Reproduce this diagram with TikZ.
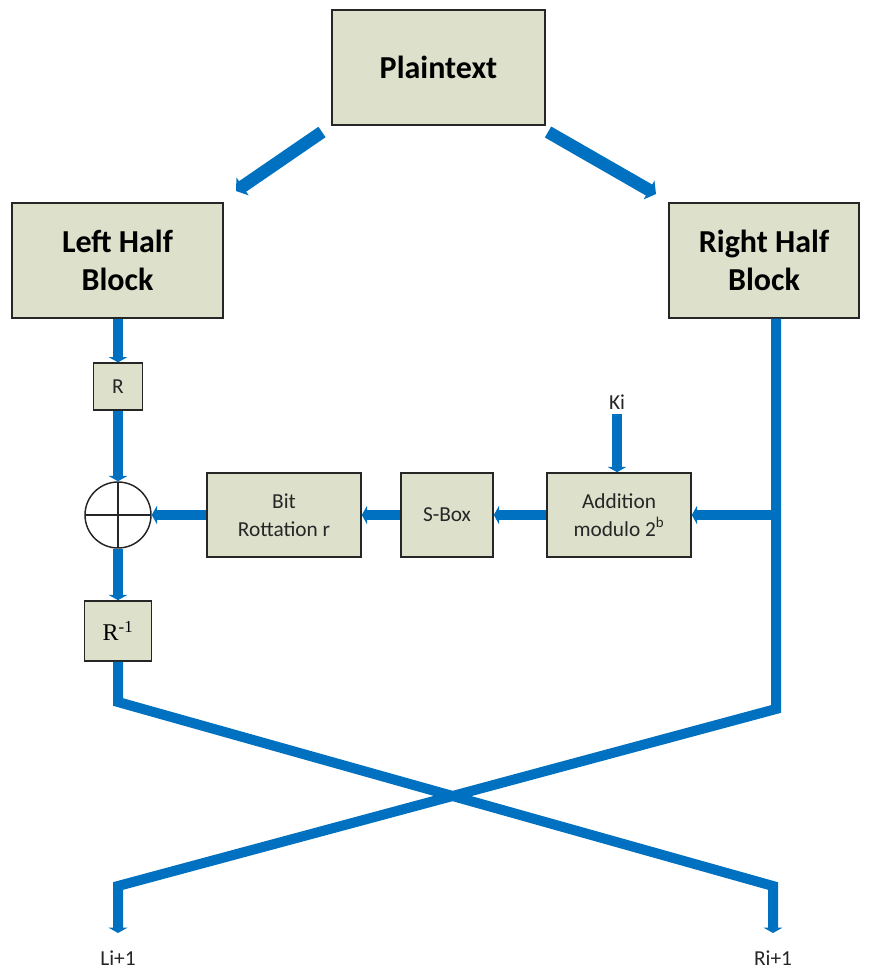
\documentclass[tikz,border=0pt]{standalone}
\usepackage{fontspec}
\setmainfont{Carlito}
\newfontfamily\serifface{Liberation Serif}
\usetikzlibrary{arrows.meta}
\definecolor{boxfill}{HTML}{DDE1CC}
\definecolor{flow}{HTML}{0070C0}
\definecolor{ink}{HTML}{262626}
\begin{document}
\begin{tikzpicture}[x=0.75pt,y=-0.75pt,
  blockbox/.style={draw=ink,line width=1.2pt,fill=boxfill,align=center,inner sep=0pt},
  bigtext/.style={font=\fontsize{24}{28}\selectfont\bfseries},
  smalltext/.style={font=\fontsize{16}{21}\selectfont,text=ink},
  flowline/.style={draw=flow,line width=7.5pt,line join=miter},
  flowarrow/.style={flowline,-{Triangle[width=14pt,length=4pt]}},
  bigarrow/.style={draw=flow,line width=9.5pt,-{Triangle[width=16pt,length=6pt]}},
  xorcircle/.style={circle,draw=ink,line width=1.1pt,fill=white,minimum size=49.5pt,inner sep=0pt,
    path picture={\draw[ink,line width=1.1pt]
      (path picture bounding box.north) -- (path picture bounding box.south)
      (path picture bounding box.west) -- (path picture bounding box.east);}}
]
\useasboundingbox (0,0) rectangle (871,970);

% blocks
\node[blockbox,bigtext,minimum width=160pt,minimum height=86pt] (plain) at (438.5,67.5) {Plaintext};
\node[blockbox,bigtext,minimum width=158pt,minimum height=86pt] (lhalf) at (117.5,260.5) {Left Half\\Block};
\node[blockbox,bigtext,minimum width=142.5pt,minimum height=86pt] (rhalf) at (764,260.5) {Right Half\\Block};
\node[blockbox,smalltext,minimum width=37pt,minimum height=35pt] (rbox) at (118,386.5) {R};
\node[xorcircle] (xor) at (118,515) {};
\node[blockbox,minimum width=50pt,minimum height=45pt,font=\serifface\fontsize{18}{21}\selectfont] (rinv) at (118,631) {R\textsuperscript{-1}};
\node[blockbox,smalltext,minimum width=115.5pt,minimum height=63pt] (rot) at (284,515) {Bit\\Rottation r};
\node[blockbox,smalltext,minimum width=69pt,minimum height=63pt] (sbox) at (447,515) {S-Box};
\node[blockbox,smalltext,minimum width=108pt,minimum height=63pt] (add) at (619,515) {Addition\\modulo 2\textsuperscript{b}};

% labels
\node[smalltext] (ki) at (617,402) {Ki};
\node[smalltext] (lout) at (118,958) {Li+1};
\node[smalltext] (rout) at (773,958) {Ri+1};

% helper points
\coordinate (pa1) at (322,132);
\coordinate (pa2) at (236,191);
\coordinate (pb1) at (548,132);
\coordinate (pb2) at (656,194);
\coordinate (rv) at (776,709);
\coordinate (jn) at (776,515);
\coordinate (lbend) at (118,702);
\coordinate (lcross) at (773,886);
\coordinate (rcross) at (118,886);
\coordinate (lend) at (773,933);
\coordinate (rend) at (118,933);
\coordinate (kitop) at (617,414);

% plaintext split
\draw[bigarrow] (pa1) -- (pa2);
\draw[bigarrow] (pb1) -- (pb2);

% left half path
\draw[flowarrow] (lhalf.south -| rbox.north) -- (rbox.north);
\draw[flowarrow] (rbox.south) -- (xor.north);
\draw[flowarrow] (xor.south) -- (rinv.north);

% round function
\draw[flowarrow] (jn) -- (add.east);
\draw[flowarrow] (kitop) -- (add.north -| kitop);
\draw[flowarrow] (add.west) -- (sbox.east);
\draw[flowarrow] (sbox.west) -- (rot.east);
\draw[flowarrow] (rot.west) -- (xor.east);

% swap of halves
\draw[flowarrow] (rinv.south) -- (lbend) -- (lcross) -- (lend);
\draw[flowarrow] (rhalf.south -| rv) -- (rv) -- (rcross) -- (rend);
\end{tikzpicture}
\end{document}
